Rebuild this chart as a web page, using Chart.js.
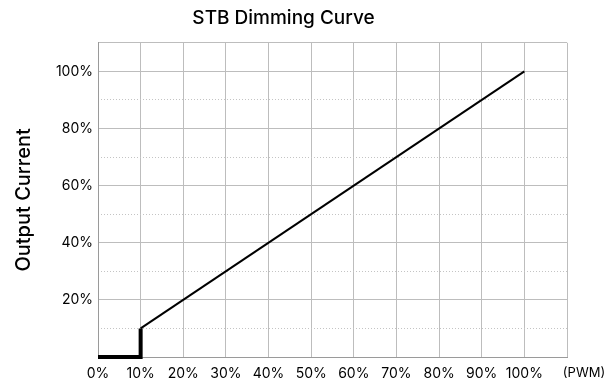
<!DOCTYPE html>
<html>
<head>
<meta charset="utf-8">
<script src="https://cdn.jsdelivr.net/npm/chart.js@4"></script>
<style>
  html, body { margin: 0; padding: 0; background: #fff; }
  #wrap { width: 605px; height: 381px; }
</style>
</head>
<body>
<div id="wrap"><canvas id="c" width="605" height="381"></canvas></div>
<script>
// PWM duty (%) vs output current (%)
const offSegmentX = [0, 10, 10];
const offSegmentY = [0, 0, 10];
const rampX = [10, 100];
const rampY = [10, 100];
const xTickValues = [0, 10, 20, 30, 40, 50, 60, 70, 80, 90, 100];
const yTickValues = [20, 40, 60, 80, 100];
const xUnitLabel = '(PWM)';

const FONT = 'Inter, "Open Sans", sans-serif';
const TICK_SIZE = 14;
const TICK_PAD = 8;

const toPoints = (xs, ys) => xs.map((x, i) => ({ x, y: ys[i] }));

// Draws the unit label after the last x tick, on the tick label row
const unitLabel = {
  id: 'unitLabel',
  afterDraw(chart) {
    const xs = chart.scales.x;
    const ctx = chart.ctx;
    ctx.save();
    ctx.font = '13px ' + FONT;
    ctx.fillStyle = '#000';
    ctx.textAlign = 'center';
    ctx.textBaseline = 'middle';
    ctx.fillText(xUnitLabel, xs.getPixelForValue(110) + 17, xs.top + TICK_PAD + TICK_SIZE * 0.6);
    ctx.restore();
  }
};

new Chart(document.getElementById('c'), {
  type: 'scatter',
  data: {
    datasets: [
      {
        data: toPoints(offSegmentX, offSegmentY),
        showLine: true,
        borderColor: '#000',
        borderWidth: 4,
        pointRadius: 0,
        borderCapStyle: 'butt',
        borderJoinStyle: 'miter',
        clip: false
      },
      {
        data: toPoints(rampX, rampY),
        showLine: true,
        borderColor: '#000',
        borderWidth: 2,
        pointRadius: 0,
        clip: false
      }
    ]
  },
  options: {
    responsive: false,
    animation: false,
    layout: { padding: { left: 0, right: 38, top: 0, bottom: 0 } },
    plugins: {
      legend: { display: false },
      tooltip: { enabled: false },
      title: {
        display: true,
        text: 'STB Dimming Curve',
        color: '#000',
        font: { family: FONT, size: 19, weight: '500' },
        padding: { top: 7, bottom: 13 }
      }
    },
    scales: {
      x: {
        type: 'linear',
        min: 0,
        max: 110,
        afterBuildTicks(s) { s.ticks = xTickValues.concat([110]).map(v => ({ value: v })); },
        afterFit(s) { s.height = 24; },
        ticks: {
          color: '#000',
          font: { family: FONT, size: TICK_SIZE },
          padding: TICK_PAD,
          maxRotation: 0,
          autoSkip: false,
          callback: v => (xTickValues.includes(v) ? v + '%' : '')
        },
        grid: { color: '#bdbdbd', lineWidth: 1, drawTicks: false },
        border: { color: '#9a9a9a', width: 1 }
      },
      y: {
        type: 'linear',
        min: 0,
        max: 110,
        afterBuildTicks(s) { s.ticks = [0].concat(yTickValues, [110]).map(v => ({ value: v })); },
        afterFit(s) { s.width = 98; },
        ticks: {
          color: '#000',
          font: { family: FONT, size: TICK_SIZE },
          padding: 5,
          callback: v => (yTickValues.includes(v) ? v + '%' : '')
        },
        title: {
          display: true,
          text: 'Output Current',
          color: '#000',
          font: { family: FONT, size: 20, weight: '500' },
          padding: { top: 12, bottom: 0 }
        },
        grid: { color: '#bdbdbd', lineWidth: 1, drawTicks: false },
        border: { color: '#9a9a9a', width: 1 }
      },
      yMinor: {
        type: 'linear',
        position: 'left',
        min: 0,
        max: 110,
        afterBuildTicks(s) { s.ticks = [10, 30, 50, 70, 90].map(v => ({ value: v })); },
        afterFit(s) { s.width = 0; },
        ticks: { display: false },
        grid: { color: '#c4c4c4', lineWidth: 1, drawTicks: false },
        border: { display: false, dash: [1, 2] }
      }
    }
  },
  plugins: [unitLabel]
});
</script>
</body>
</html>
